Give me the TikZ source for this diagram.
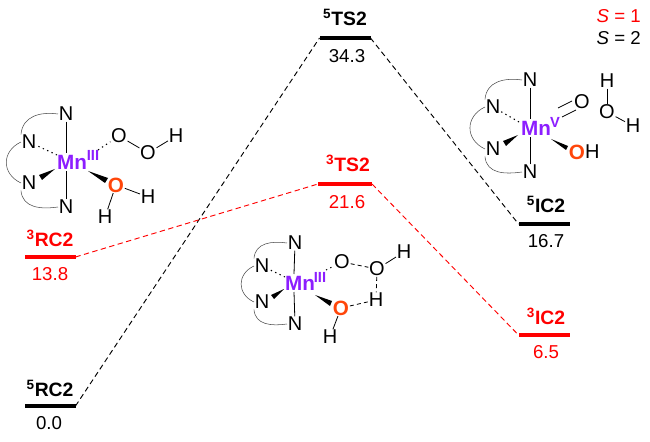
\documentclass[tikz,border=0pt]{standalone}
\usepackage{fontspec}
\setmainfont{Liberation Sans}
\definecolor{lred}{RGB}{255,0,0}
\definecolor{mnv}{RGB}{140,30,255}
\definecolor{oxy}{RGB}{255,70,10}
\tikzset{
 x=0.75pt,y=-0.75pt,
 lvl/.style={fill=#1,draw=none,minimum width=51*0.75pt,minimum height=3.2*0.75pt,inner sep=0pt,outer sep=0pt},
 val/.style={font=\fontsize{14}{15}\selectfont,text=#1,inner sep=0pt},
 nam/.style={font=\fontsize{14.5}{15}\selectfont\bfseries,text=#1,inner sep=0pt},
 con/.style={dashed,dash pattern=on 4pt off 2.6pt,line width=0.7pt,draw=#1},
 atm/.style={font=\fontsize{15}{15}\selectfont,inner sep=0.6pt,outer sep=0pt},
 mn/.style={font=\fontsize{15.5}{15}\selectfont\bfseries,text=mnv,inner sep=1pt},
 sp/.style={font=\fontsize{11}{12}\selectfont\bfseries,text=mnv,inner sep=0pt},
 ox/.style={atm,font=\fontsize{15.5}{15}\selectfont\bfseries,text=oxy},
 bnd/.style={line width=0.6pt,black},
 arcl/.style={line width=0.4pt,draw=black!70},
 wedge/.style={fill=black,draw=none},
 hash/.style={line width=0.8pt,dash pattern=on 1pt off 2.6pt},
 hb/.style={line width=0.6pt,dash pattern=on 3pt off 2.4pt},
}
\begin{document}
\begin{tikzpicture}
\useasboundingbox (0,0) rectangle (650,442);
% levels
\node[lvl=black] (rcq) at (50,406) {};
\node[lvl=lred] (rct) at (50,257) {};
\node[lvl=black] (tsq) at (345,38) {};
\node[lvl=lred,minimum width=54*0.75pt] (tst) at (345,184) {};
\node[lvl=black] (icq) at (544,224) {};
\node[lvl=lred] (ict) at (544,335) {};
% connectors
\draw[con=black] (rcq.east) -- (tsq.west);
\draw[con=black] (tsq.east) -- (icq.west);
\draw[con=lred] (rct.east) -- (tst.west);
\draw[con=lred] (tst.east) -- (ict.west);
% labels
\node[nam=black] (lrcq) at (50,388) {\textsuperscript{5}RC2};
\node[val=black] (vrcq) at (49,423) {0.0};
\node[nam=lred] (lrct) at (50,238) {\textsuperscript{3}RC2};
\node[val=lred] (vrct) at (50,274) {13.8};
\node[nam=black] (ltsq) at (345,17) {\textsuperscript{5}TS2};
\node[val=black] (vtsq) at (347,56) {34.3};
\node[nam=lred] (ltst) at (348,163) {\textsuperscript{3}TS2};
\node[val=lred] (vtst) at (347,202) {21.6};
\node[nam=black] (licq) at (546,204) {\textsuperscript{5}IC2};
\node[val=black] (vicq) at (546,241) {16.7};
\node[nam=lred] (lict) at (546,316) {\textsuperscript{3}IC2};
\node[val=lred] (vict) at (546,352) {6.5};
\node[val=lred,anchor=east] (s1) at (641,16) {\textit{S} = 1};
\node[val=black,anchor=east] (s2) at (641,38) {\textit{S} = 2};
% complex A
\node[mn] (am) at (72,162) {Mn};
\node[sp] (as) at (93,155) {III};
\node[atm] (an1) at (66,114) {N};
\node[atm] (an2) at (29,142) {N};
\node[atm] (an3) at (29,183) {N};
\node[atm] (an4) at (66,207) {N};
\node[atm] (ao1) at (119,136) {O};
\node[atm] (ao2) at (148,153) {O};
\node[atm] (ah1) at (176,136) {H};
\node[ox] (ao3) at (116,185) {O};
\node[atm] (ah2) at (148,197) {H};
\node[atm] (ah3) at (105,217) {H};
\draw[bnd] (an1) -- (66,153);
\draw[bnd] (an4) -- (66,171);
\coordinate (am1) at (57,155);
\coordinate (am2) at (55,169);
\coordinate (am3) at (88,171);
\coordinate (am4) at (98,150);
\draw[hash] (am1) -- (an2);
\fill[wedge] (am2) -- (39,175) -- (42,180) -- cycle;
\fill[wedge] (am3) -- (108,178) -- (105,183) -- cycle;
\draw[hash] (am4) -- (ao1);
\draw[bnd] (ao1) -- (ao2);
\draw[bnd] (ao2) -- (ah1);
\draw[bnd] (ao3) -- (ah2);
\draw[bnd] (ao3) -- (ah3);
\draw[arcl] (an1.west) to[out=172,in=85,looseness=1.1] (an2.north west);
\draw[arcl] (an2.west) to[out=205,in=155,looseness=1.35] (an3.west);
\draw[arcl] (an3.south west) to[out=-85,in=-172,looseness=1.1] (an4.west);
% complex B
\node[mn] (bm) at (300,283) {Mn};
\node[sp] (bs) at (320,277) {III};
\node[atm] (bn1) at (295,243) {N};
\node[atm] (bn2) at (262,266) {N};
\node[atm] (bn3) at (262,302) {N};
\node[atm] (bn4) at (295,324) {N};
\node[atm] (bo1) at (342,262) {O};
\node[atm] (bo2) at (377,269) {O};
\node[atm] (bh1) at (404,252) {H};
\node[atm] (bh2) at (376,300) {H};
\node[ox] (bo3) at (341,308) {O};
\node[atm] (bh3) at (330,337) {H};
\draw[bnd] (bn1) -- (294,274);
\draw[bnd] (bn4) -- (294,292);
\coordinate (bm1) at (285,277);
\coordinate (bm2) at (284,289);
\coordinate (bm3) at (315,295);
\coordinate (bm4) at (326,270);
\draw[hash] (bm1) -- (bn2);
\fill[wedge] (bm2) -- (271,295) -- (274,299) -- cycle;
\fill[wedge] (bm3) -- (332,301) -- (330,306) -- cycle;
\draw[hash] (bm4) -- (bo1);
\draw[hb] (bo1) -- (bo2);
\draw[bnd] (bo2) -- (bh1);
\draw[hb] (bo2) -- (bh2);
\draw[hb] (bo3) -- (bh2);
\draw[bnd] (bo3) -- (bh3);
\draw[arcl] (bn1.west) to[out=172,in=85,looseness=1.1] (bn2.north west);
\draw[arcl] (bn2.west) to[out=205,in=155,looseness=1.35] (bn3.west);
\draw[arcl] (bn3.south west) to[out=-85,in=-172,looseness=1.1] (bn4.west);
% complex C
\node[mn] (cm) at (536,128) {Mn};
\node[sp] (cs) at (555,122) {V};
\node[atm] (cn1) at (530,80) {N};
\node[atm] (cn2) at (493,107) {N};
\node[atm] (cn3) at (493,149) {N};
\node[atm] (cn4) at (530,172) {N};
\node[atm] (co1) at (582,102) {O};
\node[ox] (co2) at (577,152) {O};
\node[atm,anchor=west,inner sep=0pt] (ch1) at (585,152) {H};
\node[atm] (wh1) at (607,81) {H};
\node[atm] (wo) at (607,112) {O};
\node[atm] (wh2) at (633,126) {H};
\draw[bnd] (cn1) -- (530,119);
\draw[bnd] (cn4) -- (530,137);
\coordinate (cm1) at (519,122);
\coordinate (cm2) at (518,135);
\coordinate (cm3) at (551,139);
\coordinate (cd1) at (558,108);
\coordinate (cd1e) at (572,101);
\coordinate (cd2) at (562,117);
\coordinate (cd2e) at (576,110);
\draw[hash] (cm1) -- (cn2);
\fill[wedge] (cm2) -- (503,141) -- (506,146) -- cycle;
\fill[wedge] (cm3) -- (568,146) -- (566,150) -- cycle;
\draw[bnd] (cd1) -- (cd1e);
\draw[bnd] (cd2) -- (cd2e);
\draw[bnd] (wh1) -- (wo);
\draw[bnd] (wo) -- (wh2);
\draw[arcl] (cn1.west) to[out=172,in=85,looseness=1.1] (cn2.north west);
\draw[arcl] (cn2.west) to[out=205,in=155,looseness=1.35] (cn3.west);
\draw[arcl] (cn3.south west) to[out=-85,in=-172,looseness=1.1] (cn4.west);
\end{tikzpicture}
\end{document}
